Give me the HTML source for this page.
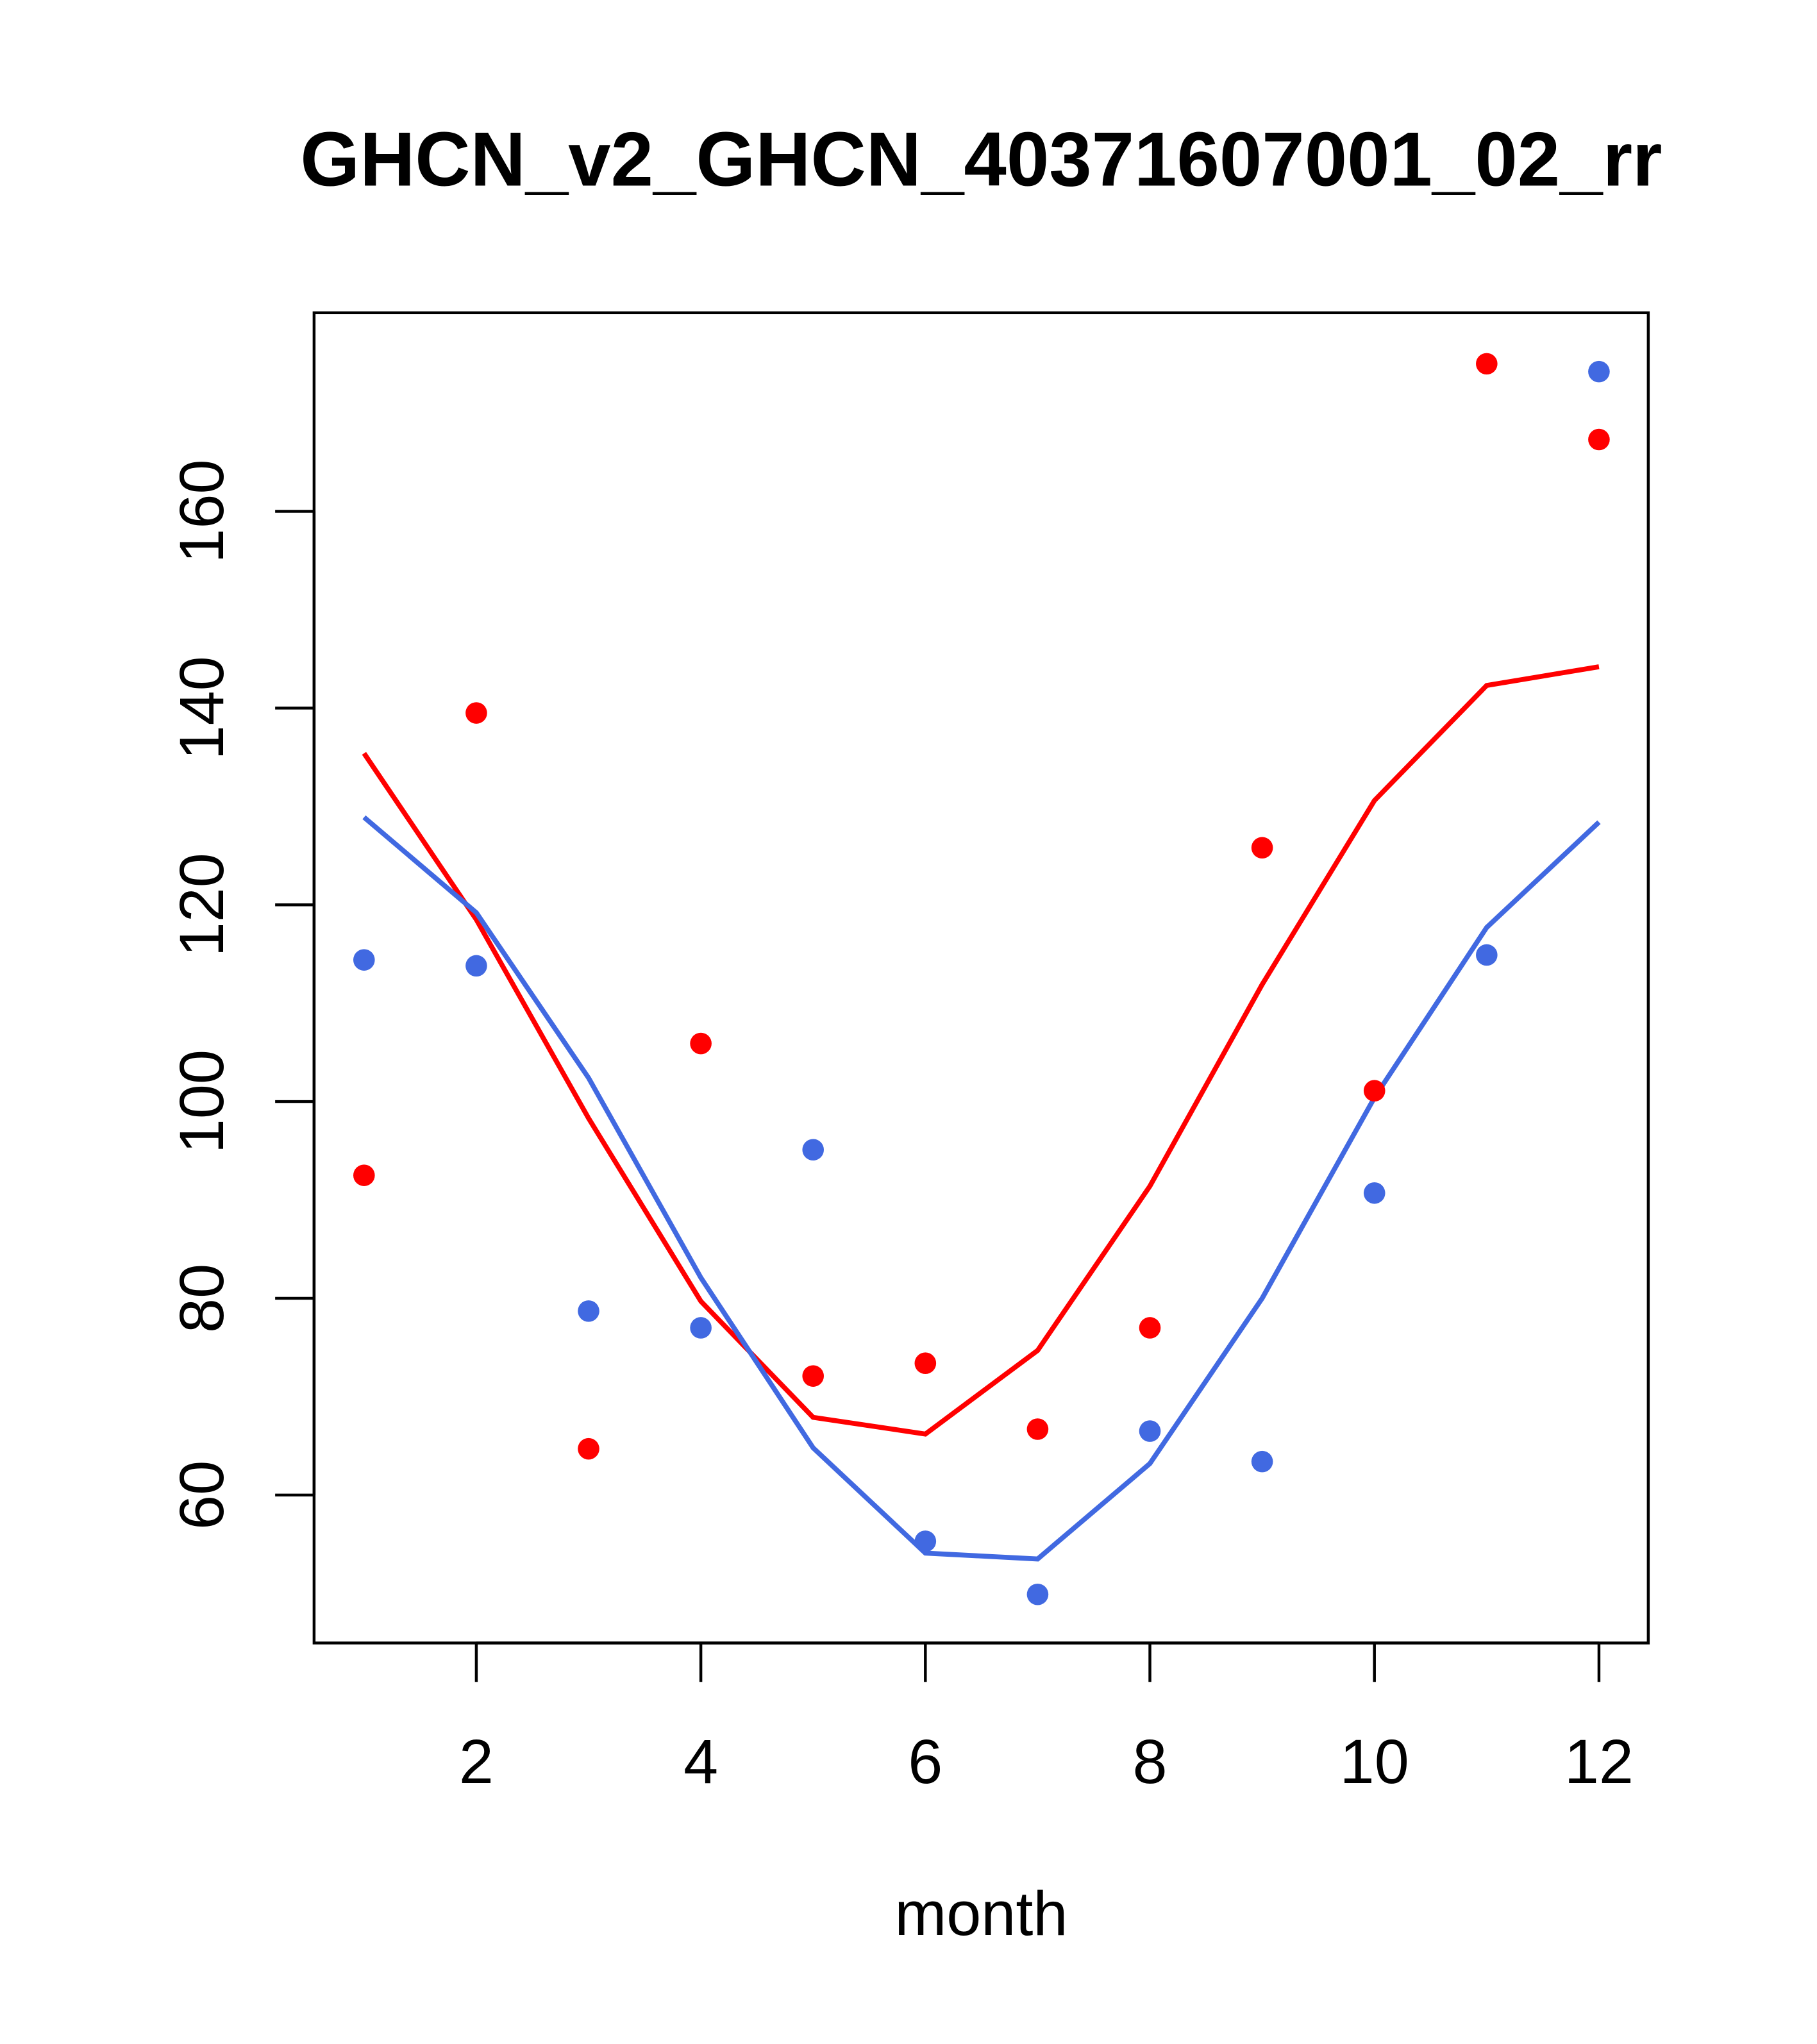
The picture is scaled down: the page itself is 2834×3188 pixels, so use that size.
<!DOCTYPE html>
<html><head><meta charset="utf-8"><style>html,body{margin:0;padding:0;background:#fff}svg{display:block}</style></head>
<body>
<svg id="chart" width="2834" height="3188" viewBox="0 0 1400 1575" preserveAspectRatio="none" xmlns="http://www.w3.org/2000/svg" font-family="Liberation Sans, sans-serif">
<rect width="1400" height="1575" fill="#fff"/>
<text x="756" y="143" text-anchor="middle" font-size="59" font-weight="bold">GHCN_v2_GHCN_40371607001_02_rr</text>
<rect x="242" y="241" width="1028" height="1025" fill="none" stroke="#000" stroke-width="2.2"/>
<text x="756" y="1491" text-anchor="middle" font-size="48">month</text>
<g id="xaxis"></g>
<g id="yaxis"></g>
<g id="series"></g>
</svg>
<script>
const months = [1,2,3,4,5,6,7,8,9,10,11,12];
const redPoints = [92.5,139.5,64.7,105.9,72.1,73.4,66.7,77,125.8,101.1,175,167.3];
const bluePoints = [114.4,113.8,78.7,77,95.1,55.3,49.9,66.5,63.4,90.7,114.9,174.2];
const redLine = [135.4,118.5,98.3,79.7,67.9,66.2,74.7,91.4,111.9,130.6,142.3,144.2];
const blueLine = [128.9,119.2,102.4,82.1,64.8,54.1,53.5,63.2,80,100.4,117.7,128.4];
const xTicks = [2,4,6,8,10,12];
const yTicks = [60,80,100,120,140,160];

const NS = "http://www.w3.org/2000/svg";
function xs(m){ return 280.5 + 86.5*(m-1); }
function ys(v){ return 1152 - (v-60)*7.58; }
function mk(tag, attrs, parent){
  const e = document.createElementNS(NS, tag);
  for (const k in attrs) e.setAttribute(k, attrs[k]);
  parent.appendChild(e); return e;
}
const xa = document.getElementById('xaxis');
mk('line',{x1:xs(2),x2:xs(12),y1:1266,y2:1266,stroke:'#000','stroke-width':2.2},xa);
xTicks.forEach(t=>{
  const l = mk('line',{x1:xs(t),x2:xs(t),y1:1266,y2:1296,stroke:'#000','stroke-width':2.2},xa);
  
  
  const tx = mk('text',{x:xs(t),y:1374,'text-anchor':'middle','font-size':48},xa);
  tx.textContent = t;
  
  
});
const ya = document.getElementById('yaxis');
mk('line',{x1:242,x2:242,y1:ys(60),y2:ys(160),stroke:'#000','stroke-width':2.2},ya);
yTicks.forEach(t=>{
  const l = mk('line',{x1:212,x2:242,y1:ys(t),y2:ys(t),stroke:'#000','stroke-width':2.2},ya);
  
  
  const tx = mk('text',{x:0,y:0,'text-anchor':'middle','font-size':48,transform:`translate(172,${ys(t)}) rotate(-90)`},ya);
  tx.textContent = t;
  
  
});
const s = document.getElementById('series');
function line(vals,color,name){
  const p = mk('polyline',{points:vals.map((v,i)=>xs(months[i])+','+ys(v)).join(' '),fill:'none',stroke:color,'stroke-width':3.8},s);
  
  
}
function pts(vals,color,name){
  vals.forEach((v,i)=>{
    const c = mk('circle',{cx:xs(months[i]),cy:ys(v),r:8.3,fill:color},s);
    
    
  });
}
line(redLine,'#ff0000','red-line');
line(blueLine,'#4169e1','blue-line');
pts(redPoints,'#ff0000','red-point');
pts(bluePoints,'#4169e1','blue-point');
</script>
</body></html>
